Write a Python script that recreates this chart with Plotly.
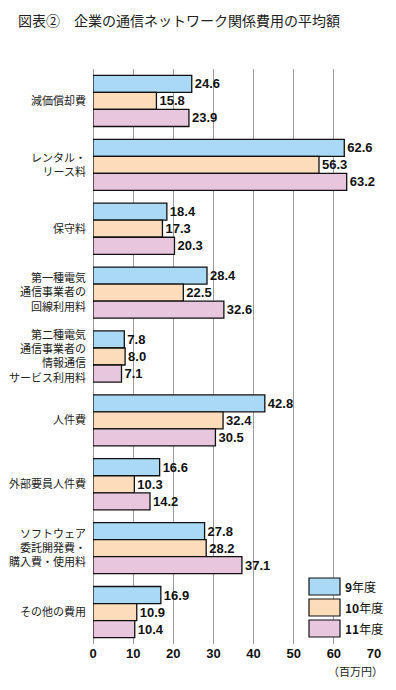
import plotly.graph_objects as go

categories = [
    "減価償却費",
    "レンタル・<br>リース料",
    "保守料",
    "第一種電気<br>通信事業者の<br>回線利用料",
    "第二種電気<br>通信事業者の<br>情報通信<br>サービス利用料",
    "人件費",
    "外部要員人件費",
    "ソフトウェア<br>委託開発費・<br>購入費・使用料",
    "その他の費用",
]
series_names = ["9年度", "10年度", "11年度"]
fy9 = [24.6, 62.6, 18.4, 28.4, 7.8, 42.8, 16.6, 27.8, 16.9]
fy10 = [15.8, 56.3, 17.3, 22.5, 8.0, 32.4, 10.3, 28.2, 10.9]
fy11 = [23.9, 63.2, 20.3, 32.6, 7.1, 30.5, 14.2, 37.1, 10.4]
x_ticks = [0, 10, 20, 30, 40, 50, 60, 70]

colors = ["#a9d9f5", "#fddcbb", "#e8c6de"]
W, H = 396, 690
ML, MR, MT, MB = 93, 22, 69, 46
PW, PH = W - ML - MR, H - MT - MB

def px(x):
    return (x - ML) / PW

def py(y):
    return (H - MB - y) / PH

fig = go.Figure()
for name, vals, col in zip(series_names, [fy9, fy10, fy11], colors):
    fig.add_trace(go.Bar(
        y=categories, x=vals, orientation="h", name=name,
        marker=dict(color=col, line=dict(color="#111", width=1.3)),
        text=vals, texttemplate="<b>%{x:.1f}</b>", textposition="outside",
        textfont=dict(family="Liberation Sans, Arial", size=13, color="#111"),
        cliponaxis=False, showlegend=False,
    ))

shapes = []
annotations = []
box_tops = [578, 599, 620]
for name, col, top in zip(series_names, colors, box_tops):
    shapes.append(dict(type="rect", xref="paper", yref="paper",
                       x0=px(309), x1=px(340), y0=py(top + 17), y1=py(top),
                       fillcolor=col, line=dict(color="#111", width=1.2)))
    num = name.replace("年度", "")
    annotations.append(dict(xref="paper", yref="paper", x=px(343), y=py(top + 8.5),
                            text="<b>" + num + "</b>年度", showarrow=False,
                            xanchor="left", yanchor="middle",
                            font=dict(family="Noto Sans CJK JP", size=12, color="#111")))

annotations.append(dict(xref="paper", yref="paper", x=px(355), y=py(671),
                        text="（百万円）", showarrow=False, xanchor="center", yanchor="middle",
                        font=dict(family="Noto Sans CJK JP", size=11, color="#222")))
annotations.append(dict(xref="paper", yref="paper", x=px(16), y=py(20),
                        text="図表②　企業の通信ネットワーク関係費用の平均額", showarrow=False,
                        xanchor="left", yanchor="middle",
                        font=dict(family="Noto Sans CJK JP", size=14, color="#222")))

fig.update_layout(
    width=W, height=H,
    margin=dict(l=ML, r=MR, t=MT, b=MB, autoexpand=False),
    barmode="group", bargap=0.2, bargroupgap=0,
    plot_bgcolor="white", paper_bgcolor="white",
    shapes=shapes, annotations=annotations,
    xaxis=dict(range=[0, 70], tickvals=x_ticks, ticktext=["<b>%d</b>" % t for t in x_ticks],
               showgrid=True, gridcolor="#9a9a9a", gridwidth=1,
               zeroline=True, zerolinecolor="#9a9a9a", zerolinewidth=1,
               showline=False, ticks="",
               tickfont=dict(family="Liberation Sans, Arial", size=13, color="#111"),
               fixedrange=True),
    yaxis=dict(autorange="reversed", showgrid=False, showline=False, ticks="",
               ticklabelstandoff=6,
               tickfont=dict(family="Noto Sans CJK JP", size=11, color="#222"),
               fixedrange=True),
)

fig.write_html("out.html", config={"displayModeBar": False},
               post_script="document.body.style.margin='0';document.body.style.overflow='hidden';")
